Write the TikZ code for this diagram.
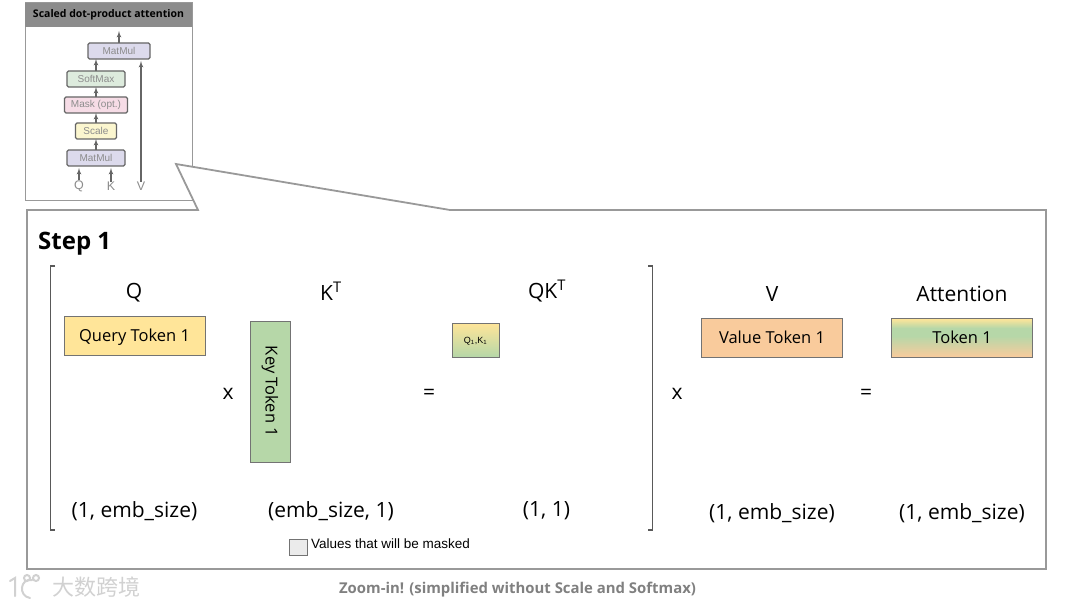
\documentclass[tikz,border=0pt]{standalone}
\usepackage{fontspec}
\setmainfont{Open Sans}
\newfontfamily\arialfont{Liberation Sans}
\newfontfamily\cjk{Noto Sans CJK SC}
\usepackage{xcolor}
\usetikzlibrary{arrows,positioning,calc}

\definecolor{framegray}{HTML}{999999}
\definecolor{querycol}{HTML}{FFE599}
\definecolor{keycol}{HTML}{B6D7A8}
\definecolor{valuecol}{HTML}{F9CB9C}
\definecolor{minimat}{HTML}{DCDAEC}
\definecolor{miniscale}{HTML}{FBF6CF}
\definecolor{minimask}{HTML}{F6DCE6}
\definecolor{minisoft}{HTML}{DDEBDD}
\pgfdeclareverticalshading{tokenmix}{100bp}{color(0bp)=(valuecol); color(25bp)=(valuecol); color(52bp)=(keycol); color(62bp)=(keycol); color(74bp)=(querycol); color(100bp)=(querycol)}

\begin{document}
\begin{tikzpicture}[x=1pt, y=-1pt, node distance=10pt,
    tokenbox/.style={rectangle, draw=black!55, line width=0.9pt, outer sep=0pt, inner sep=0pt, minimum width=141pt, minimum height=39pt, text height=12pt, text depth=0pt, font=\fontsize{16.5}{18}\selectfont},
    label/.style={inner sep=0pt, font=\fontsize{21}{25}\selectfont},
    minibox/.style={rectangle, draw=black!60, line width=1.3pt, rounded corners=1.5pt, outer sep=0pt, inner sep=0pt, minimum height=16pt, text=black!45, font=\arialfont\fontsize{10}{11}\selectfont},
    miniletter/.style={inner sep=0pt, text=black!45, font=\arialfont\fontsize{12.5}{14}\selectfont},
    line/.style={draw=black!60, line width=1.2pt, -latex'}]
    \useasboundingbox (0,0) rectangle (1079,607);

    % small picture of the whole block
    \node [rectangle, draw=framegray, line width=1pt, fill=white, outer sep=0pt, minimum width=167pt, minimum height=197pt] (inset) at (108.5,101.5) {};
    \node [rectangle, fill=black!45, outer sep=0pt, inner sep=0pt, minimum width=167pt, minimum height=24pt, font=\bfseries\fontsize{10.5}{12}\selectfont] (insettitle) at (108.5,15) {Scaled dot-product attention};

    \node [minibox, fill=minimat, minimum width=58pt] (matmulb) at (96,158) {MatMul};
    \node [minibox, fill=miniscale, minimum width=41pt, above=11pt of matmulb] (scale) {Scale};
    \node [minibox, fill=minimask, minimum width=63pt, above=10pt of scale] (mask) {Mask (opt.)};
    \node [minibox, fill=minisoft, minimum width=58pt, above=10pt of mask] (softmax) {SoftMax};
    \node [minibox, fill=minimat, minimum width=62pt] (matmult) at (119,51) {MatMul};
    \node [miniletter] (qin) at (79,186) {Q};
    \node [miniletter] (kin) at (111,186) {K};
    \node [miniletter] (vin) at (141,186) {V};
    \coordinate (out) at (119,31);

    \draw [line] (matmulb) -- (scale);
    \draw [line] (scale) -- (mask);
    \draw [line] (mask) -- (softmax);
    \draw [line] (softmax.north) -- (softmax.north |- matmult.south);
    \draw [line] (matmult) -- (out);
    \draw [line, shorten >=2pt] (qin) -- (qin |- matmulb.south);
    \draw [line, shorten >=2pt] (kin) -- (kin |- matmulb.south);
    \draw [line, shorten >=2pt] (vin) -- (vin |- matmult.south);

    % callout frame
    \draw [framegray, line width=1.8pt, fill=white] (27,210) -- (198,210) -- (176,164) -- (450,210) -- (1046,210) -- (1046,569) -- (27,569) -- cycle;

    \node [anchor=west, inner sep=0pt, font=\bfseries\fontsize{24}{28}\selectfont] (step) at (38,244) {Step 1};

    % brackets
    \draw [black!65, line width=1.7pt] (55,266) -- (50.5,266) -- (50.5,530) -- (55,530);
    \draw [black!65, line width=1.7pt] (648,266) -- (652.5,266) -- (652.5,530) -- (648,530);

    \node [tokenbox, fill=querycol] (query) at (134.5,335.5) {Query Token 1};
    \node [tokenbox, fill=keycol, minimum width=40pt, minimum height=141pt] (key) at (270,391.5) {};
    \node [rotate=-90, inner sep=0pt, font=\fontsize{16.5}{18}\selectfont] (keytext) at (key.center) {Key Token 1};
    \node [tokenbox, top color=querycol, bottom color=keycol, minimum width=47pt, minimum height=34pt, text height=6pt, font=\arialfont\fontsize{9}{10}\selectfont] (qk) at (475.5,340) {Q\textsubscript{1},K\textsubscript{1}};
    \node [tokenbox, fill=valuecol] (value) at (772,337.5) {Value Token 1};
    \node [tokenbox, shading=tokenmix] (attn) at (962,337.5) {Token 1};

    \node [label] (qlab) at (134,293) {Q};
    \node [label] (klab) at (331,291) {K\textsuperscript{T}};
    \node [label] (qklab) at (547,291) {QK\textsuperscript{T}};
    \node [label] (vlab) at (772,294) {V};
    \node [label] (attnlab) at (962,294) {Attention};

    \node [label] (times1) at (228,394) {x};
    \node [label] (eq1) at (429,394) {=};
    \node [label] (times2) at (677,394) {x};
    \node [label] (eq2) at (866,394) {=};

    \node [label] (qsize) at (134.5,511) {(1, emb\_size)};
    \node [label] (ksize) at (331,511) {(emb\_size, 1)};
    \node [label] (qksize) at (546.5,511) {(1, 1)};
    \node [label] (vsize) at (772,513) {(1, emb\_size)};
    \node [label] (attnsize) at (962,513) {(1, emb\_size)};

    % legend
    \node [rectangle, draw=black!55, line width=0.9pt, fill=black!8, minimum width=18pt, minimum height=16pt, inner sep=0pt, outer sep=0pt] (legend) at (298,547) {};
    \node [anchor=west, inner sep=0pt, font=\arialfont\fontsize{13.5}{15}\selectfont] (legendtext) at (311,544) {Values that will be masked};

    \node [inner sep=0pt, text=black!50, font=\bfseries\fontsize{14.9}{17}\selectfont] (caption) at (517.5,590) {Zoom-in! (simplified without Scale and Softmax)};

    % watermark
    \node [anchor=west, inner sep=0pt, text=black!18, font=\cjk\fontsize{22}{24}\selectfont] (mark) at (52,587) {大数跨境};
    \draw [black!18, line width=2pt, line cap=round] (10,581) -- (15,578) -- (15,596) (32,580) .. controls (20,578) and (18,596) .. (30,598) (27,578) circle (3pt) (36,578) circle (3pt);
\end{tikzpicture}
\end{document}
